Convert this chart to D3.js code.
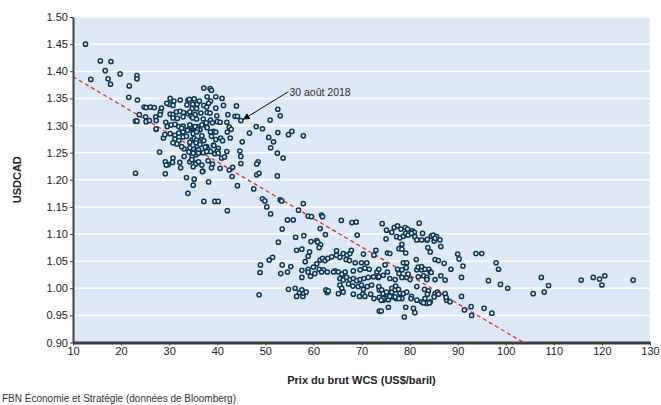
<!doctype html>
<html>
<head>
<meta charset="utf-8">
<style>
  body { margin: 0; background: #fff; }
  svg { font-family: "Liberation Sans", Arial, sans-serif; }
  .tick text { font-size: 11px; fill: #222; }
  .domain { stroke: #404040; }
  .tick line { stroke: #404040; }
</style>
<script src="https://d3js.org/d3.v7.min.js"></script>
</head>
<body>
<svg width="661" height="405"></svg>
<script>
// ticks
var xTicks = [10, 20, 30, 40, 50, 60, 70, 80, 90, 100, 110, 120, 130];
var yTicks = [0.90, 0.95, 1.00, 1.05, 1.10, 1.15, 1.20, 1.25, 1.30, 1.35, 1.40, 1.45, 1.50];

// regression line end points (WCS, USDCAD)
var fitX = [10, 103.7];
var fitY = [1.39, 0.90];

// annotated point + label
var noteLabel = "30 août 2018";
var notePoint = [44.9, 1.309];
var noteText = [55.0, 1.355];

// observations [WCS price, USDCAD]
var obs = [
  [12.6,1.450],[13.7,1.385],[15.7,1.419],[17.9,1.418],[16.7,1.401],[17.3,1.386],[17.8,1.376],[19.8,1.395],
  [23.3,1.392],[23.3,1.386],[21.7,1.373],[21.6,1.352],[23.4,1.347],[24.8,1.334],[25.2,1.333],[26.1,1.334],
  [26.9,1.333],[28.2,1.325],[23.8,1.320],[23.0,1.308],[23.3,1.308],[25.1,1.316],[25.2,1.307],[25.9,1.309],
  [27.2,1.316],[27.3,1.309],[27.3,1.293],[29.3,1.306],[28.8,1.277],[28.0,1.251],[29.2,1.233],[29.8,1.228],
  [30.8,1.240],[32.2,1.232],[34.3,1.233],[35.6,1.231],[23.0,1.212],
  [30.2,1.350],[31.0,1.345],[30.0,1.339],[30.8,1.337],[33.9,1.347],[34.2,1.348],[35.2,1.349],[33.7,1.338],
  [35.1,1.336],[35.8,1.339],[30.2,1.321],[30.8,1.320],[31.5,1.325],[32.3,1.326],[33.0,1.324],[33.9,1.322],
  [30.8,1.314],[31.7,1.313],[32.9,1.316],[34.6,1.317],[35.4,1.320],[29.6,1.298],[30.4,1.301],[31.2,1.302],
  [32.0,1.298],[32.9,1.299],[33.9,1.292],[35.0,1.290],[35.8,1.298],[30.2,1.285],[31.2,1.282],[32.0,1.286],
  [32.9,1.288],[33.8,1.291],[35.1,1.288],[31.2,1.275],[32.0,1.272],[32.9,1.279],[33.1,1.257],[34.3,1.259],
  [35.1,1.256],[35.8,1.262],[31.6,1.266],[30.8,1.268],[34.1,1.251],[35.3,1.251],[34.8,1.243],[35.6,1.246],
  [29.4,1.227],[29.2,1.211],[30.7,1.232],[32.4,1.222],[33.1,1.243],[35.5,1.229],[27.3,1.294],[32.6,1.295],
  [34.5,1.298],[36.4,1.292],[37.8,1.298],[39.2,1.289],[29.1,1.283],[33.6,1.280],[34.7,1.273],[36.8,1.275],
  [37.8,1.261],[39.2,1.264],[32.6,1.261],[36.1,1.255],[29.5,1.341],[28.4,1.332],[28.1,1.320],[32.3,1.347],
  [33.6,1.204],[35.2,1.201],[35.0,1.190],[33.9,1.175],[38.2,1.196],[37.0,1.216],[37.2,1.160],[39.5,1.160],
  [40.2,1.160],
  [37.2,1.369],[38.5,1.368],[38.8,1.365],[37.9,1.353],[39.7,1.353],[41.0,1.350],[36.3,1.345],[38.6,1.345],
  [34.9,1.339],[37.2,1.337],[38.2,1.341],[41.3,1.337],[44.0,1.336],[34.8,1.331],[35.7,1.331],[37.8,1.334],
  [39.7,1.332],[34.3,1.325],[36.6,1.323],[37.9,1.324],[38.5,1.323],[39.9,1.318],[42.2,1.320],[43.7,1.317],
  [44.2,1.317],[44.9,1.309],[52.6,1.330],[53.1,1.318],[51.0,1.310],[34.9,1.314],[35.7,1.312],[37.1,1.312],
  [37.7,1.305],[38.6,1.310],[39.0,1.305],[40.0,1.307],[40.6,1.306],[42.0,1.306],[48.1,1.298],[49.4,1.294],
  [34.3,1.301],[35.4,1.298],[35.9,1.292],[36.8,1.301],[37.9,1.296],[38.6,1.288],[39.7,1.288],[42.5,1.297],
  [42.9,1.293],[42.1,1.288],[46.7,1.286],[52.6,1.287],[54.8,1.283],[55.5,1.289],[57.9,1.281],[35.0,1.285],
  [35.7,1.288],[35.2,1.276],[35.7,1.273],[36.8,1.281],[37.2,1.272],[38.8,1.280],[39.7,1.274],[40.7,1.277],
  [41.1,1.272],[42.7,1.277],[50.7,1.278],[51.7,1.270],[45.2,1.270],[34.3,1.269],[35.6,1.268],[36.4,1.265],
  [37.5,1.260],[38.2,1.255],[38.6,1.252],[39.3,1.263],[40.2,1.258],[42.0,1.252],[44.7,1.253],[51.1,1.259],
  [52.5,1.249],[53.7,1.240],[35.0,1.249],[36.1,1.249],[37.1,1.250],[37.8,1.252],[39.5,1.248],[40.0,1.253],
  [40.9,1.240],[41.5,1.242],[44.9,1.243],[48.5,1.233],[48.2,1.229],[34.7,1.237],[36.1,1.233],[36.8,1.227],
  [38.1,1.235],[39.0,1.229],[35.0,1.224],[40.6,1.221],[42.5,1.218],[43.2,1.223],[44.9,1.230],[36.9,1.215],
  [38.8,1.222],[42.1,1.143],[43.1,1.206],[44.2,1.189],[48.2,1.209],[48.7,1.212],[47.6,1.183],[52.5,1.207],
  [49.4,1.165],[49.9,1.161],[50.3,1.150],[51.1,1.137],[53.1,1.163],[53.4,1.161],[57.9,1.156],[56.9,1.144],
  [58.9,1.133],[59.6,1.132],[54.6,1.126],[55.8,1.126],[40.2,1.249],
  [61.7,1.135],[61.9,1.132],[65.8,1.125],[68.0,1.121],[68.9,1.122],[53.5,1.109],[61.4,1.110],[62.5,1.099],
  [58.0,1.097],[56.3,1.094],[69.1,1.098],[52.7,1.085],[59.5,1.086],[60.7,1.088],[60.9,1.085],[61.5,1.080],
  [61.2,1.075],[56.5,1.070],[57.6,1.072],[59.2,1.067],[58.9,1.059],[51.5,1.057],[50.8,1.052],[49.0,1.043],
  [48.9,1.029],[53.5,1.043],[53.2,1.027],[55.3,1.040],[54.6,1.030],[48.7,0.988],[58.3,1.049],[57.6,1.033],
  [57.6,1.020],[58.9,1.035],[60.0,1.039],[60.7,1.045],[61.4,1.052],[61.9,1.055],[62.4,1.051],[63.0,1.055],
  [63.8,1.058],[64.8,1.069],[64.8,1.061],[65.5,1.057],[66.2,1.064],[67.0,1.061],[67.6,1.064],[67.9,1.070],
  [66.8,1.053],[67.5,1.051],[68.7,1.047],[70.0,1.047],[71.1,1.047],[70.4,1.063],[73.0,1.070],[72.6,1.061],
  [58.9,1.030],[61.2,1.035],[62.1,1.034],[62.9,1.030],[64.5,1.032],[65.2,1.030],[65.9,1.026],[66.6,1.030],
  [68.3,1.032],[69.7,1.034],[70.7,1.037],[71.6,1.035],[73.2,1.030],[65.5,1.018],[66.2,1.015],[66.9,1.020],
  [67.6,1.016],[68.3,1.018],[69.0,1.014],[69.7,1.016],[70.5,1.018],[71.4,1.020],[72.5,1.021],[73.5,1.020],
  [65.5,1.006],[65.9,1.000],[67.3,1.008],[68.2,1.004],[69.3,1.003],[70.0,1.006],[70.4,0.998],[71.2,1.003],
  [72.1,1.006],[73.7,0.997],[65.2,0.990],[66.2,0.993],[68.3,0.989],[69.6,0.985],[70.3,0.989],[70.7,0.985],
  [71.9,0.989],[73.7,0.958],[54.8,0.998],[56.2,1.000],[56.5,0.985],[57.1,0.992],[57.6,0.997],[57.8,0.985],
  [58.0,0.991],[58.5,0.993],[62.6,0.997],[62.9,0.992],[63.1,0.995],[59.4,1.022],[60.3,1.027],[61.7,1.030],
  [64.2,1.030],[75.1,1.091],[72.6,0.981],[73.7,0.983],[74.5,0.978],[75.2,0.989],[75.6,0.979],[76.3,0.993],
  [76.6,0.984],[78.0,0.991],[77.2,0.981],[78.4,0.981],
  [74.3,1.119],[75.2,1.107],[76.3,1.103],[76.8,1.112],[77.5,1.115],[78.2,1.109],[79.1,1.112],[79.6,1.109],
  [80.6,1.106],[81.0,1.103],[82.0,1.120],[77.3,1.095],[78.0,1.093],[78.7,1.096],[79.2,1.101],[79.7,1.098],
  [80.4,1.101],[81.1,1.095],[81.5,1.089],[82.7,1.101],[82.5,1.089],[83.6,1.089],[84.5,1.096],[84.9,1.098],
  [85.1,1.087],[85.6,1.095],[86.3,1.089],[78.4,1.081],[77.8,1.073],[78.4,1.072],[79.2,1.065],[83.8,1.075],
  [84.3,1.067],[86.5,1.077],[75.4,1.065],[75.9,1.064],[81.4,1.053],[85.3,1.053],[86.0,1.051],[87.2,1.046],
  [88.6,1.035],[90.0,1.063],[90.3,1.054],[91.1,1.041],[90.8,1.020],[93.8,1.064],[95.0,1.064],[98.0,1.047],
  [98.5,1.035],[96.4,1.014],[98.9,1.007],[100.4,1.000],[73.6,1.035],[74.9,1.043],[75.4,1.030],[73.6,1.021],
  [74.5,1.024],[75.9,1.018],[77.0,1.016],[77.5,1.035],[78.4,1.034],[78.7,1.047],[79.4,1.047],[79.3,1.038],
  [77.8,1.027],[78.4,1.020],[79.4,1.020],[80.1,1.016],[79.7,1.026],[81.5,1.034],[81.8,1.039],[82.5,1.034],
  [83.2,1.035],[84.0,1.035],[84.3,1.030],[81.8,1.021],[82.9,1.023],[83.6,1.020],[85.3,1.016],[86.5,1.023],
  [87.4,1.015],[73.6,1.003],[74.2,0.997],[74.5,0.990],[75.2,0.993],[76.3,1.000],[77.0,0.997],[77.1,1.004],
  [77.7,0.998],[77.0,0.984],[75.9,0.985],[74.5,0.981],[74.1,0.978],[77.8,0.981],[78.7,0.990],[79.4,0.993],
  [80.4,0.985],[81.5,0.978],[82.5,0.975],[83.2,0.981],[83.6,0.972],[84.3,0.975],[85.3,0.990],[85.8,0.993],
  [87.4,0.990],[87.7,0.978],[88.4,0.975],[83.1,0.998],[83.9,0.995],[85.1,0.984],[81.5,1.003],[90.8,0.985],
  [91.4,0.960],[92.8,0.966],[92.9,0.950],[95.5,0.963],[97.1,0.954],[79.2,0.965],[80.8,0.963],[81.1,0.955],
  [78.9,0.947],[74.1,0.958],[75.6,0.965],[80.3,0.981],[83.7,1.090],[85.3,1.092],[82.5,1.040],[84.5,1.029],
  [83.6,1.016],[83.7,0.989],[86.0,0.989],[87.6,0.983],[82.9,0.973],[84.1,0.973],
  [107.4,1.020],[108.9,1.005],[105.7,0.990],[108.0,0.993],[115.7,1.015],[118.2,1.020],[119.5,1.017],
  [120.6,1.023],[120.0,1.006],[126.5,1.015]
];

var svg = d3.select("svg"),
    margin = {top: 17, right: 11, bottom: 62.5, left: 73},
    width = 661 - margin.left - margin.right,
    height = 405 - margin.top - margin.bottom;

var x = d3.scaleLinear().domain([10, 130]).range([0, width]),
    y = d3.scaleLinear().domain([0.9, 1.5]).range([height, 0]);

var g = svg.append("g")
    .attr("transform", "translate(" + margin.left + "," + margin.top + ")");

// plot background
g.append("rect")
    .attr("width", width)
    .attr("height", height)
    .attr("fill", "#dde9f9");

// white gridlines
g.selectAll(".grid")
    .data(yTicks)
    .enter().append("line")
    .attr("x1", 0)
    .attr("x2", width)
    .attr("y1", function(d) { return y(d); })
    .attr("y2", function(d) { return y(d); })
    .attr("stroke", "#fff")
    .attr("stroke-width", 1.5);

// regression line
g.append("line")
    .attr("x1", x(fitX[0]))
    .attr("y1", y(fitY[0]))
    .attr("x2", x(fitX[1]))
    .attr("y2", y(fitY[1]))
    .attr("stroke", "#e8282b")
    .attr("stroke-width", 1.3)
    .attr("stroke-dasharray", "4,3");

// points
g.selectAll(".pt")
    .data(obs)
    .enter().append("circle")
    .attr("class", "pt")
    .attr("cx", function(d) { return x(d[0]); })
    .attr("cy", function(d) { return y(d[1]); })
    .attr("r", 2.1)
    .attr("fill", "#e6eefa")
    .attr("stroke", "#0d3656")
    .attr("stroke-width", 1.5);

// axes
g.append("g")
    .attr("class", "axis")
    .call(d3.axisLeft(y).tickValues(yTicks).tickFormat(d3.format(".2f")).tickSize(3).tickSizeOuter(0))
    .call(function(a) {
        a.select(".domain").attr("stroke-width", 2);
        a.selectAll("text").attr("x", -5);
    });

g.append("g")
    .attr("class", "axis")
    .attr("transform", "translate(0," + height + ")")
    .call(d3.axisBottom(x).tickValues(xTicks).tickSize(3).tickSizeOuter(0))
    .call(function(a) {
        a.select(".domain").attr("stroke-width", 3);
        a.selectAll("text").attr("y", 5);
    });

// annotation
var defs = svg.append("defs");
defs.append("marker")
    .attr("id", "arrow")
    .attr("viewBox", "0 0 10 10")
    .attr("refX", 10)
    .attr("refY", 5)
    .attr("markerWidth", 7)
    .attr("markerHeight", 7)
    .attr("orient", "auto")
    .append("path")
    .attr("d", "M0,0 L10,5 L0,10 z")
    .attr("fill", "#111");

g.append("line")
    .attr("x1", x(noteText[0]) - 1)
    .attr("y1", y(noteText[1]) - 4)
    .attr("x2", x(notePoint[0]) + 2)
    .attr("y2", y(notePoint[1]) - 1)
    .attr("stroke", "#111")
    .attr("stroke-width", 1)
    .attr("marker-end", "url(#arrow)");

g.append("text")
    .attr("x", x(noteText[0]))
    .attr("y", y(noteText[1]))
    .attr("font-size", 10.5)
    .attr("fill", "#333")
    .text(noteLabel);

// axis titles
svg.append("text")
    .attr("transform", "translate(21," + (margin.top + height / 2) + ") rotate(-90)")
    .attr("text-anchor", "middle")
    .attr("font-size", 11)
    .attr("font-weight", "bold")
    .attr("fill", "#222")
    .text("USDCAD");

svg.append("text")
    .attr("x", margin.left + width / 2)
    .attr("y", 384)
    .attr("text-anchor", "middle")
    .attr("font-size", 11)
    .attr("font-weight", "bold")
    .attr("fill", "#222")
    .text("Prix du brut WCS (US$/baril)");

svg.append("text")
    .attr("x", 2)
    .attr("y", 402)
    .attr("font-size", 10)
    .attr("fill", "#333")
    .text("FBN Économie et Stratégie (données de Bloomberg)");
</script>
</body>
</html>
